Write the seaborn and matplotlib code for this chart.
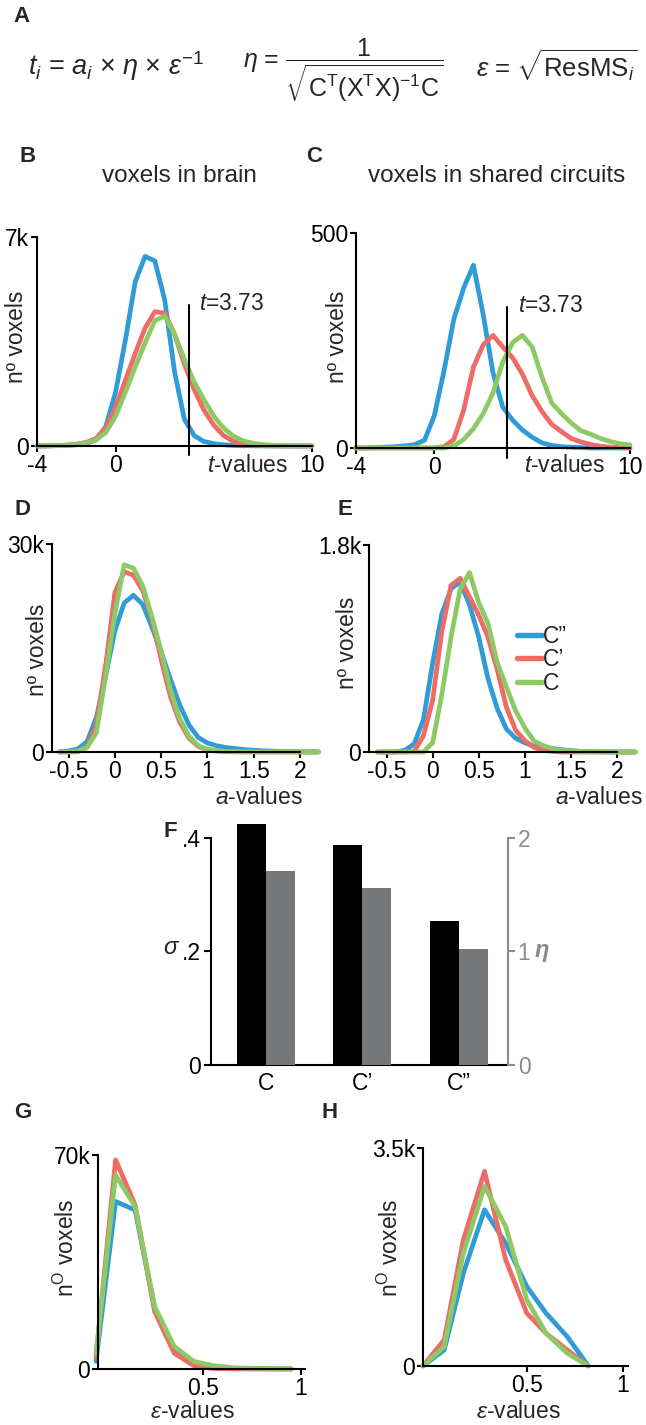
import numpy as np
import pandas as pd
import matplotlib
matplotlib.use('Agg')
import matplotlib.pyplot as plt
import seaborn as sns

# ------------------------------------------------------------------ data
contrasts = ['C”', 'C’', 'C']          # legend / hue order (blue, red, green)

# B / C : t-value histograms
t_values = [-4, -3.5, -3, -2.5, -2, -1.5, -1, -0.5, 0, 0.5, 1, 1.5, 2, 2.5, 3,
            3.5, 4, 4.5, 5, 5.5, 6, 6.5, 7, 7.5, 8, 8.5, 9, 9.5, 10]
brain_t_C2 = [0, 5, 10, 20, 40, 90, 200, 650, 1800, 3550, 5500, 6350, 6200, 4900, 2500,
              900, 350, 150, 80, 40, 20, 10, 5, 3, 2, 1, 0, 0, 0]
brain_t_C1 = [0, 5, 15, 30, 60, 120, 250, 600, 1300, 2200, 3100, 3950, 4500, 4450, 3750,
              2750, 1900, 1200, 700, 350, 150, 60, 25, 10, 5, 2, 0, 0, 0]
brain_t_C0 = [0, 5, 10, 25, 50, 100, 200, 450, 1000, 1800, 2650, 3450, 4200, 4350, 3750,
              2900, 2150, 1550, 1000, 600, 330, 170, 90, 50, 25, 12, 6, 3, 0]
shared_t_C2 = [0, 0, 1, 2, 3, 5, 8, 18, 75, 180, 300, 372, 425, 310, 175,
               95, 65, 42, 25, 12, 6, 3, 2, 1, 0, 0, 0, 0, 0]
shared_t_C1 = [0, 0, 0, 0, 0, 0, 0, 0, 0, 3, 20, 88, 188, 240, 262,
               235, 210, 172, 122, 85, 55, 38, 22, 14, 8, 4, 2, 1, 0]
shared_t_C0 = [0, 0, 0, 0, 0, 0, 0, 0, 0, 0, 5, 20, 45, 80, 128,
               200, 245, 262, 235, 165, 105, 80, 58, 40, 32, 22, 15, 10, 7]
t_threshold = 3.73

# D / E : a-value histograms
a_values = [-0.6, -0.5, -0.4, -0.3, -0.2, -0.1, 0.0, 0.1, 0.2, 0.3, 0.4, 0.5, 0.6, 0.7,
            0.8, 0.9, 1.0, 1.1, 1.2, 1.3, 1.4, 1.5, 1.6, 1.7, 1.8, 1.9, 2.0, 2.1, 2.2]
brain_a_C2 = [0, 150, 450, 1500, 5000, 11000, 17500, 21500, 22600, 21300, 18000, 14400,
              10500, 6800, 3900, 2100, 1300, 900, 650, 500, 350, 250, 180, 120, 80, 50, 30, 20, 10]
brain_a_C1 = [0, 0, 50, 700, 4000, 12500, 23000, 26000, 25500, 23300, 19200, 13300,
              8000, 4300, 2000, 800, 300, 120, 50, 20, 10, 0, 0, 0, 0, 0, 0, 0, 0]
brain_a_C0 = [0, 0, 150, 700, 2800, 11000, 20000, 27000, 26500, 24000, 19500, 14500,
              9000, 4800, 2300, 900, 400, 200, 100, 60, 40, 25, 15, 10, 5, 0, 0, 0, 0]
shared_a_C2 = [0, 0, 0, 15, 70, 280, 770, 1200, 1420, 1480, 1280, 1000,
               640, 380, 200, 120, 80, 50, 38, 30, 20, 12, 6, 3, 2, 1, 0, 0, 0]
shared_a_C1 = [0, 0, 0, 0, 5, 140, 450, 1050, 1450, 1510, 1350, 1190,
               1000, 720, 390, 190, 100, 40, 15, 5, 0, 0, 0, 0, 0, 0, 0, 0, 0]
shared_a_C0 = [0, 0, 0, 0, 0, 0, 80, 500, 1000, 1420, 1560, 1300,
               1120, 780, 566, 360, 210, 95, 55, 30, 15, 9, 5, 3, 2, 1, 0, 0, 0]

# F : bars
bar_categories = ['C', 'C’', 'C”']
sigma_values = [0.424, 0.387, 0.254]
eta_values = [1.71, 1.56, 1.02]

# G / H : epsilon-value histograms
eps_brain = [-0.05, 0.05, 0.15, 0.25, 0.35, 0.45, 0.55, 0.65, 0.75, 0.85, 0.95]
brain_e_C2 = [2500, 54800, 52000, 19900, 6300, 1960, 650, 200, 100, 50, 20]
brain_e_C1 = [4000, 68400, 53700, 18800, 5200, 1100, 200, 50, 0, 0, 0]
brain_e_C0 = [5000, 63500, 53100, 20500, 7400, 2500, 1100, 400, 200, 100, 50]
eps_shared = [-0.04, 0.07, 0.17, 0.28, 0.39, 0.5, 0.6, 0.71, 0.82]
shared_e_C2 = [0, 257, 1490, 2508, 1972, 1276, 847, 472, 0]
shared_e_C1 = [0, 418, 2026, 3125, 1704, 847, 525, 257, 0]
shared_e_C0 = [0, 311, 1812, 2884, 2240, 1061, 525, 204, 0]

# ------------------------------------------------------------------ style
sns.set_theme(style='ticks')
plt.rcParams['font.family'] = ['Liberation Sans', 'DejaVu Sans']
plt.rcParams['mathtext.fontset'] = 'custom'
plt.rcParams['mathtext.rm'] = 'Liberation Sans'
plt.rcParams['mathtext.it'] = 'Liberation Sans:italic'
plt.rcParams['mathtext.bf'] = 'Liberation Sans:bold'
plt.rcParams['mathtext.sf'] = 'Liberation Sans'

BLUE, RED, GREEN = '#2f9bd7', '#ee6b66', '#8dc965'
palette = {'C”': BLUE, 'C’': RED, 'C': GREEN}
GRAY = '#77787c'
LS = 16.5
LW = 3.4
LETTER = 16

W, H = 646, 1425
fig = plt.figure(figsize=(W / 100, H / 100), dpi=100)


def axes_px(l, t, r, b):
    return fig.add_axes([l / W, 1 - b / H, (r - l) / W, (b - t) / H])


def ftext(x, y, s, **kw):
    kw.setdefault('ha', 'center')
    kw.setdefault('va', 'center')
    kw.setdefault('fontsize', LS)
    return fig.text(x / W, 1 - y / H, s, **kw)


def long_df(x, s2, s1, s0):
    return pd.DataFrame({
        'x': list(x) * 3,
        'n': list(s2) + list(s1) + list(s0),
        'contrast': [contrasts[0]] * len(x) + [contrasts[1]] * len(x) + [contrasts[2]] * len(x),
    })


def draw_lines(ax, df, legend=False):
    sns.lineplot(data=df, x='x', y='n', hue='contrast', hue_order=contrasts,
                 palette=palette, lw=LW, ax=ax, legend=legend, estimator=None,
                 clip_on=False)


def setup(ax, xlim, ylim, xticks, xtl, yticks, ytl):
    ax.set_xlim(xlim)
    ax.set_ylim(ylim)
    ax.set_xticks(xticks)
    ax.set_xticklabels(xtl)
    ax.set_yticks(yticks)
    ax.set_yticklabels(ytl)
    for s in ['top', 'right']:
        ax.spines[s].set_visible(False)
    for s in ['left', 'bottom']:
        ax.spines[s].set_linewidth(1.5)
        ax.spines[s].set_color('black')
    ax.tick_params(direction='out', length=4, width=1.5, labelsize=LS, pad=1.5,
                   colors='black')
    ax.set_xlabel('')
    ax.set_ylabel('')
    ax.set_facecolor('none')


# ------------------------------------------------------------------ A: formula
ftext(21, 17, 'A', fontweight='bold', fontsize=LETTER)
ftext(28, 66, r'$t_i$ = $a_i$ × $\eta$ × $\varepsilon^{-1}$', ha='left', fontsize=19.5)
ftext(243, 71, r'$\eta$ = $\dfrac{1}{\sqrt{\mathrm{C^T(X^TX)^{-1}C}}}$', ha='left', fontsize=18)
ftext(476, 66, r'$\varepsilon$ = $\sqrt{\mathrm{ResMS}_i}$', ha='left', fontsize=18.5)

# ------------------------------------------------------------------ B / C
ftext(28, 156, 'B', fontweight='bold', fontsize=LETTER)
ftext(314, 156, 'C', fontweight='bold', fontsize=LETTER)
ftext(179, 176, 'voxels in brain', fontsize=17.5)
ftext(497, 176, 'voxels in shared circuits', fontsize=17.5)

axB = axes_px(37, 237, 312, 446)
draw_lines(axB, long_df(t_values, brain_t_C2, brain_t_C1, brain_t_C0))
setup(axB, (-4, 10), (0, 7000), [-4, 0, 10], ['-4', '0', '10'], [0, 7000], ['0', '7k'])
axB.axvline(t_threshold, ymin=-0.045, ymax=0.675, color='black', lw=1.5, clip_on=False)
axB.text(0.589, 0.684, r'$t$=3.73', transform=axB.transAxes, fontsize=LS, va='center')
ftext(17, 337, 'nº voxels', rotation=90)
ftext(248, 466, r'$t$-values')

axC = axes_px(356, 233, 630, 448)
draw_lines(axC, long_df(t_values, shared_t_C2, shared_t_C1, shared_t_C0))
setup(axC, (-4, 10), (0, 500), [-4, 0, 10], ['-4', '0', '10'], [0, 500], ['0', '500'])
axC.axvline(t_threshold, ymin=-0.045, ymax=0.656, color='black', lw=1.5, clip_on=False)
axC.text(0.591, 0.665, r'$t$=3.73', transform=axC.transAxes, fontsize=LS, va='center')
ftext(337, 337, 'nº voxels', rotation=90)
ftext(565, 466, r'$t$-values')

# ------------------------------------------------------------------ D / E
ftext(23, 509, 'D', fontweight='bold', fontsize=LETTER)
ftext(345, 509, 'E', fontweight='bold', fontsize=LETTER)
a_ticks = [-0.5, 0, 0.5, 1, 1.5, 2]
a_tl = ['-0.5', '0', '0.5', '1', '1.5', '2']

axD = axes_px(52, 544, 300, 752)
draw_lines(axD, long_df(a_values, brain_a_C2, brain_a_C1, brain_a_C0))
setup(axD, (-0.68, 2.0), (0, 30000), a_ticks, a_tl, [0, 30000], ['0', '30k'])
ftext(38, 650, 'nº voxels', rotation=90)
ftext(303, 797, r'$a$-values', ha='right')

axE = axes_px(369, 545, 617, 752)
draw_lines(axE, long_df(a_values, shared_a_C2, shared_a_C1, shared_a_C0), legend=True)
setup(axE, (-0.69, 2.0), (0, 1800), a_ticks, a_tl, [0, 1800], ['0', '1.8k'])
sns.move_legend(axE, 'upper left', bbox_to_anchor=(517 / W, 1 - 625 / H),
                bbox_transform=fig.transFigure, frameon=False, fontsize=LS,
                handlelength=1.1, handletextpad=0.05, labelspacing=0.02,
                borderpad=0, borderaxespad=0, title=None)
for ln in axE.get_legend().get_lines():
    ln.set_linewidth(LW + 0.5)
ftext(347, 643, 'nº voxels', rotation=90)
ftext(643, 797, r'$a$-values', ha='right')

# ------------------------------------------------------------------ F
ftext(170, 832, 'F', fontweight='bold', fontsize=LETTER)
axF = axes_px(211, 815, 508, 1065)
df_sig = pd.DataFrame({'cat': bar_categories, 'val': sigma_values, 'kind': ['sigma'] * 3})
df_eta = pd.DataFrame({'cat': bar_categories, 'val': eta_values, 'kind': ['eta'] * 3})
bar_pal = {'sigma': 'black', 'eta': GRAY}
sns.barplot(data=df_sig, x='cat', y='val', hue='kind', hue_order=['sigma', 'eta'],
            order=bar_categories, palette=bar_pal, width=0.6, dodge=True,
            saturation=1, errorbar=None, legend=False, ax=axF, linewidth=0)
axF2 = axF.twinx()
sns.barplot(data=df_eta, x='cat', y='val', hue='kind', hue_order=['sigma', 'eta'],
            order=bar_categories, palette=bar_pal, width=0.6, dodge=True,
            saturation=1, errorbar=None, legend=False, ax=axF2, linewidth=0)
for a in (axF, axF2):
    a.set_xlim(-0.57, 2.51)
    a.set_xlabel('')
    a.set_ylabel('')
    a.set_facecolor('none')
axF.set_ylim(0, 0.44)
axF2.set_ylim(0, 2.2)
axF.set_yticks([0, 0.2, 0.4])
axF.set_yticklabels(['0', '.2', '.4'])
axF2.set_yticks([0, 1, 2])
axF2.set_yticklabels(['0', '1', '2'])
axF.set_xticks([0, 1, 2])
axF.set_xticklabels(bar_categories)
for s in ['top', 'right']:
    axF.spines[s].set_visible(False)
for s in ['top', 'left', 'bottom']:
    axF2.spines[s].set_visible(False)
axF.spines['left'].set_bounds(0, 0.4)
axF.spines['left'].set_linewidth(1.5)
axF.spines['bottom'].set_linewidth(1.5)
axF.spines['left'].set_color('black')
axF.spines['bottom'].set_color('black')
axF2.spines['right'].set_bounds(0, 2)
axF2.spines['right'].set_linewidth(1.5)
axF2.spines['right'].set_color('#8a8a8a')
axF.tick_params(axis='y', direction='out', length=5, width=1.5, labelsize=LS, pad=2, colors='black')
axF.tick_params(axis='x', length=0, labelsize=LS, pad=5, colors='black')
axF2.tick_params(axis='y', direction='out', length=5, width=1.5, labelsize=LS, pad=2,
                 colors='#8a8a8a')
ftext(170, 948, 'σ', fontstyle='italic', fontsize=17)
ftext(542, 950, 'η', fontstyle='italic', fontweight='bold', fontsize=17, color='#8a8a8a')

# ------------------------------------------------------------------ G / H
ftext(23, 1113, 'G', fontweight='bold', fontsize=LETTER)
ftext(330, 1113, 'H', fontweight='bold', fontsize=LETTER)

axG = axes_px(98, 1155, 305, 1369)
draw_lines(axG, long_df(eps_brain, brain_e_C2, brain_e_C1, brain_e_C0))
setup(axG, (-0.04, 1.02), (0, 70000), [0.5, 1], ['0.5', '1'], [0, 70000], ['0', '70k'])
ftext(66, 1248, r'n$^\mathregular{O}$ voxels', rotation=90)
ftext(192, 1412, r'$\varepsilon$-values')

axH = axes_px(423, 1148, 628, 1366)
draw_lines(axH, long_df(eps_shared, shared_e_C2, shared_e_C1, shared_e_C0))
setup(axH, (-0.04, 1.026), (0, 3500), [0.5, 1], ['0.5', '1'], [0, 3500], ['0', '3.5k'])
ftext(390, 1248, r'n$^\mathregular{O}$ voxels', rotation=90)
ftext(518, 1412, r'$\varepsilon$-values')

fig.savefig('out.png', dpi=100, facecolor='white')
